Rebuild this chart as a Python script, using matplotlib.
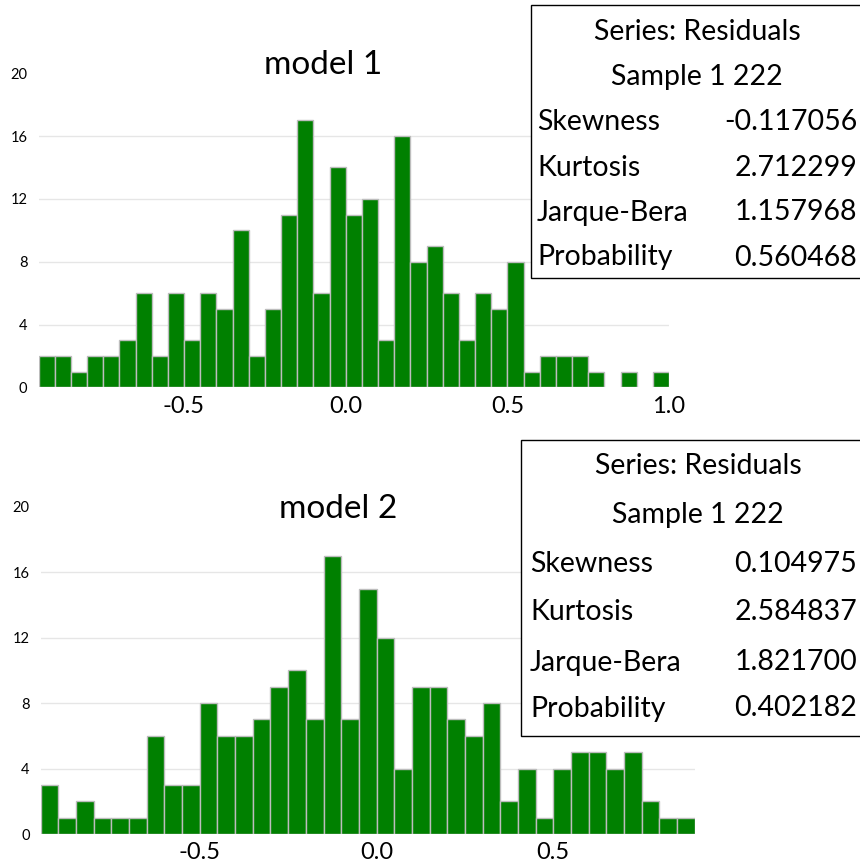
import matplotlib

matplotlib.use("Agg")
import matplotlib.pyplot as plt
import numpy as np
from matplotlib.patches import Rectangle

# residual histograms, bin width 0.05
MODEL1_BIN_START = -0.95
MODEL1_COUNTS = [2, 2, 1, 2, 2, 3, 6, 2, 6, 3, 6, 5, 10, 2, 5, 11, 17, 6, 14, 11,
                 12, 3, 16, 8, 9, 6, 3, 6, 5, 8, 1, 2, 2, 2, 1, 0, 1, 0, 1]
MODEL2_BIN_START = -0.95
MODEL2_COUNTS = [3, 1, 2, 1, 1, 1, 6, 3, 3, 8, 6, 6, 7, 9, 10, 7, 17, 7, 15, 12,
                 4, 9, 9, 7, 6, 8, 2, 4, 1, 4, 5, 5, 4, 5, 2, 1, 1]
BIN_WIDTH = 0.05

MODEL1_XTICKS = [-0.5, 0.0, 0.5, 1.0]
MODEL2_XTICKS = [-0.5, 0.0, 0.5]
YTICKS = [0, 4, 8, 12, 16, 20]

STAT_NAMES = ["Skewness", "Kurtosis", "Jarque-Bera", "Probability"]
MODEL1_STATS = ["-0.117056", "2.712299", "1.157968", "0.560468"]
MODEL2_STATS = ["0.104975", "2.584837", "1.821700", "0.402182"]
SAMPLE_TEXT = "Sample 1 222"
SERIES_TEXT = "Series: Residuals"

FONT = ["Lato", "DejaVu Sans"]
GREEN = "#008000"
EDGE = "#bdbdbd"
BOX_FS = 20.5

W, H = 860, 865


def fx(px):
    return px / W


def fy(py):
    return 1 - py / H


def draw_hist(fig, rect, counts, start, xticks, xmax, title, title_xy):
    ax = fig.add_axes(rect)
    counts = np.asarray(counts, dtype=float)
    left = start + BIN_WIDTH * np.arange(len(counts))
    keep = counts > 0
    ax.bar(left[keep], counts[keep], width=BIN_WIDTH, align="edge",
           color=GREEN, edgecolor=EDGE, linewidth=1.0, zorder=3)
    ax.set_xlim(start, xmax)
    ax.set_ylim(0, YTICKS[-1])
    ax.set_yticks(YTICKS)
    ax.set_xticks(xticks, [f"{t:.1f}" for t in xticks])
    ax.yaxis.grid(True, color="#e6e6e6", linewidth=1.0, zorder=0)
    grid = ax.get_ygridlines()
    grid[0].set_visible(False)
    grid[-1].set_visible(False)
    for s in ax.spines.values():
        s.set_visible(False)
    ax.tick_params(axis="both", length=0)
    ax.tick_params(axis="y", pad=8)
    ax.tick_params(axis="x", pad=6)
    for lab in ax.get_yticklabels():
        lab.set_fontfamily(FONT)
        lab.set_fontsize(10.5)
    for lab in ax.get_xticklabels():
        lab.set_fontfamily(FONT)
        lab.set_fontsize(17)
    fig.text(fx(title_xy[0]), fy(title_xy[1]), title, ha="center",
             va="center_baseline", fontsize=24, family=FONT)
    return ax


def draw_box(fig, box, cx, rows_y, label_x, value_x, values):
    x0, y0, x1, y1 = box
    fig.add_artist(Rectangle((fx(x0), fy(y1)), fx(x1 - x0), fy(y0) - fy(y1),
                             transform=fig.transFigure, facecolor="white",
                             edgecolor="black", linewidth=1.0, zorder=10))
    opts = dict(va="center_baseline", fontsize=BOX_FS, family=FONT, zorder=11)
    fig.text(fx(cx), fy(rows_y[0]), SERIES_TEXT, ha="center", **opts)
    fig.text(fx(cx), fy(rows_y[1]), SAMPLE_TEXT, ha="center", **opts)
    for name, val, yy in zip(STAT_NAMES, values, rows_y[2:]):
        fig.text(fx(label_x), fy(yy), name, ha="left", **opts)
        fig.text(fx(value_x), fy(yy), val, ha="right", **opts)


fig = plt.figure(figsize=(W / 100, H / 100), dpi=100)

top_rect = [fx(38.5), fy(387.3), fx(669 - 38.5), fy(73.3) - fy(387.3)]
draw_hist(fig, top_rect, MODEL1_COUNTS, MODEL1_BIN_START, MODEL1_XTICKS, 1.0,
          "model 1", (323, 62))

bot_rect = [fx(40.7), fy(834), fx(694.7 - 40.7), fy(506.8) - fy(834)]
draw_hist(fig, bot_rect, MODEL2_COUNTS, MODEL2_BIN_START, MODEL2_XTICKS, 0.9,
          "model 2", (338, 506))

draw_box(fig, (531, 5, 870, 278), 697, [29, 75, 120, 165, 210, 255], 537, 857, MODEL1_STATS)
draw_box(fig, (521, 440, 870, 736), 698, [463, 512, 561, 610, 660, 706], 530, 857, MODEL2_STATS)

fig.savefig("out.png", dpi=100)
